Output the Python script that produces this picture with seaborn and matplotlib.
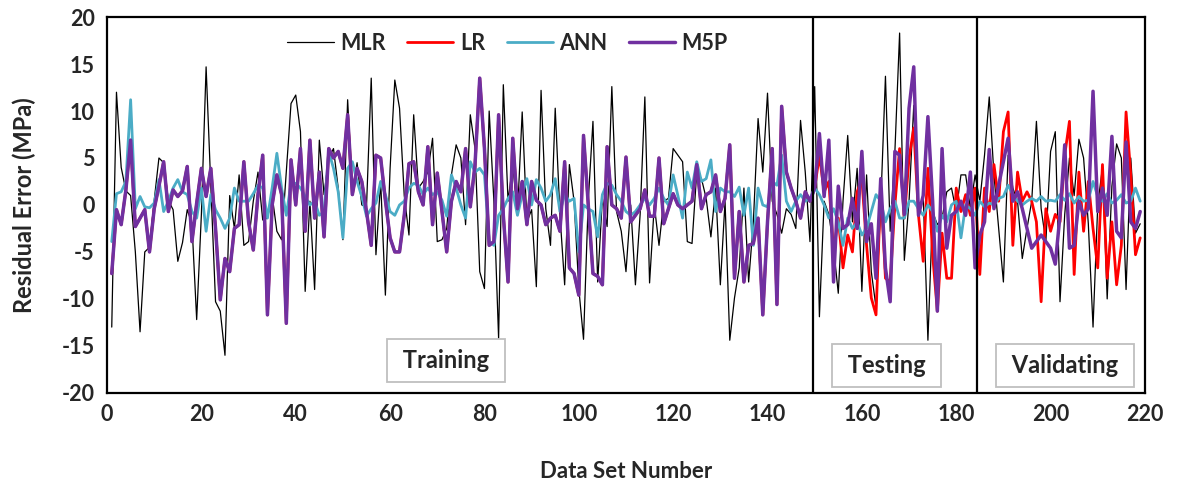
import numpy as np
import pandas as pd
import matplotlib
matplotlib.use("Agg")
import matplotlib.pyplot as plt
import seaborn as sns

# ---------------- data ----------------
mlr = [
    -13, 12, 4, 1.5, 1, -5, -13.5, -5, -4.5, 0.5,
    5, 4.5, 0.5, -0.5, -6, -4, -0.5, -2, -12.2, -1,
    14.7, 2, -10.3, -11.3, -16, 1, -2.5, 3.2, -4.3, -3.9,
    0.4, 3.5, -1.6, -1.4, 1, -2.8, -3.7, 3.5, 10.8, 11.7,
    7.8, -9.2, 0.4, -9, 6.9, 1.1, 5, 6, 1.8, -3.7,
    11.2, 1.4, 4.5, 0, -0.2, 13.5, -5.3, 2.5, -9.6, 3.9,
    13.3, 10.3, 1, -3.2, 9.6, 1.8, 2.5, 3.5, 7.1, -3.9,
    -3.7, -2.5, 3.2, 6.4, 5, -2.1, 9.6, 6, -7.1, -8.9,
    10, 0.4, -14.2, 12.8, 0.4, 4.3, -1, 9.9, -1.8, -0.5,
    -8.7, 12.2, -0.4, -4.3, 10.3, -1, -8.5, 4.3, 0.4, -8.9,
    -14.3, 0.4, 8.9, -8.2, 0.7, -2.3, 12.6, -0.7, -2.8, -7.1,
    0, -8.5, -1, 11.5, -8.3, 0, -4.3, 0.4, 0.7, 6,
    5.3, 4.6, -3.9, -4.1, 3.5, 2.8, 0.7, -3.4, 1.8, -8.5,
    0.4, -14.4, -9.9, -6.7, 1.8, -8.2, -1.8, 9.2, 3.5, 11.9,
    0.4, -1, -3, -0.4, -1, -2.5, 9, 3.5, -3.9, 12.6,
    -11.9, 0.4, -1, -4.5, -9.4, 0.4, 7.4, -1.8, 3.9, -9.2,
    3.2, -7.1, -10.9, 0, 13.7, -2.8, 5.7, 18.3, -5.9, 0.4,
    10.6, -1, 1.1, -14.4, -0.7, -2.1, -1.4, 1.4, 1.8, -0.7,
    3.2, 3.2, -0.4, 3.2, 0.4, 5.3, 11.5, 3.2, -2.5, -8.2,
    5.3, 1.8, 0.4, -5.7, -2.5, 0.4, 8.9, -0.4, -3.9, 5.7,
    7.8, -10.3, -1, 5, 1, 7, 5, -2, -13, 0,
    4, -10, 2, 6.5, 5, -9, 5, -3, -2,
]

lr = [
    -7.3, -0.5, -2.1, 1.6, 6.9, -2.3, -1.4, -0.5, -5, -0.4,
    2, 4.6, -0.7, 1.6, 0.9, 1.5, 4.1, -3.9, 0.2, 3.9,
    0.9, 3.9, -2.5, -10.1, -5.7, -7.1, -2.5, -2.1, 4.6, -1.8,
    -4.8, 1.1, 5.3, -11.7, 0, 3.2, 1.1, -12.6, 4.8, 0,
    6, -2.8, 6.9, -1.4, 3.5, -3.4, 6, 5, 5.7, 3.9,
    9.6, 1.1, 3.9, 2.5, -0.7, -4.3, 5.3, 5, 0.5, -3.5,
    -5, -5, -1.1, 4.4, 4.6, 1.4, 0, 6.2, -2.1, 3.4,
    -0.7, -5, 0.4, 2.5, 1.4, 6, -0.2, 4.3, 13.5, 6,
    -4.3, -3.9, 9.6, -1.1, -8.2, 7.1, -0.4, 2.5, -2.1, 2.5,
    0.5, 0, -2.1, -1.4, -1.1, -2.8, 4.6, -6.7, -7.3, -9.6,
    7.4, 0, -7.3, -7.6, -8.5, 6.2, 0, -0.4, -1.4, 5.1,
    -1.8, -1.1, -0.4, 1.6, -1.2, -1.2, 5, -2, -0.4, 1.2,
    0, -0.4, 0, 0.4, 4.3, -0.4, 1.1, 1.4, 3.2, -0.7,
    0.7, 6.4, -7.8, -0.7, -8.2, -4.3, -4.1, -1.4, -11.7, -1.8,
    6, -10.6, 10.5, 3.5, 1.8, 0.4, -1.4, 1.4, 0.4, 1.8,
    5.3, 1.4, 2.5, -5, -1.4, -6.7, -3.2, -5, 1.4, 2.8,
    -4.3, -9.9, -11.7, 1.8, -7.8, -8.2, 0, 6, -1.4, 5,
    8.2, -1.1, -6, 3.9, -5.3, -11.3, -3, -7.8, -7.8, 1.8,
    -0.7, 1.1, -1.1, 1.8, -7.4, 1.8, -0.7, 4.3, 0.4, 7.8,
    9.9, -4.3, 3.5, 0.4, 1.4, 0.4, -1.8, -10.3, -0.4, -2.8,
    -1, -1.8, 5.3, 8.9, -7.4, 3.5, -2.8, 2.5, -2.5, -6.7,
    4.3, -7.8, -1.8, -8.5, -4.3, 9.9, 3.2, -5.3, -3.5,
]

ann = [
    -3.9, 1.2, 1.4, 2.5, 11.2, -0.4, 0.9, -0.2, -0.3, 0.2,
    2.7, -0.7, 0.4, 1.8, 2.7, 1.4, 1.1, -0.7, -1.4, 1.8,
    -2.8, 1.1, -0.5, -1.4, -2.5, -1.4, 1.8, 0.4, 0.4, 0.4,
    1.2, 2.1, 1.8, -1.4, 1.8, 5.5, 1.8, -1.1, 2.3, 2.3,
    1.8, 0.9, 0, 0.4, -1.1, -0.7, 5.7, 3.9, 1.4, -3.5,
    3.9, 4.6, 2.5, 0.9, -1.2, -0.4, 0.2, 2.5, 1.1, -0.7,
    -1.1, 0, 0.4, 1.8, 2.3, 2.1, 1.1, 1.8, 1.1, 1.4,
    0.5, -1.2, 3.2, 1.8, 0, -1.4, 4.6, 3.5, 3.9, 3.2,
    -3.9, -4.3, -1.1, -0.4, 0.7, 1.4, -1.1, 1.1, 2.8, 0,
    2.7, 1.8, 0.4, 1.1, 2.8, -0.7, 1.1, 0.4, 0.7, -5,
    0, -0.4, -0.7, -3.4, 1.1, 2.3, 2.1, 1.1, 0.4, -0.7,
    -1.1, -0.7, 0, 0.7, 0, 0.7, 1.8, 0.7, 0, 3.2,
    1, -1.4, 3.5, 1.8, 4.6, 2.5, 2.8, 4.8, -0.7, 1.8,
    1.4, 1.4, 0.9, 1.9, -1.1, 1.8, -4.3, 1.8, 0, -0.2,
    2.5, 2.1, 5.3, 0.4, -0.7, 0.4, 1.1, 0.4, 0.7, 1.8,
    1.1, 0, -1.4, -0.4, -1.8, -4.3, -1.4, -2.5, -1.8, -3.2,
    -2.5, -0.7, 1.1, 0.4, -1.8, -0.4, 0.4, -1.4, -1.4, 0.4,
    0.4, -0.4, -1.1, 0, -0.7, -2.8, -1.1, -1.8, 0, 0.4,
    -3.5, 0, -0.4, -1.1, 0.4, -0.2, 0.2, 0, 0.7, 0.9,
    2.1, 1.1, 0.4, 0, 0.4, 0.7, 0.4, 0.9, 0.4, 0.5,
    0.4, 1.1, 0.5, 1.2, 0.2, 0.9, 0.4, 0.5, 2.5, 0.9,
    0.4, 1.2, 0.2, 0.5, 1.1, 0.2, 0.4, 1.8, 0.4,
]

m5p = [
    -7.3, -0.5, -2.1, 1.6, 6.9, -2.3, -1.4, -0.5, -5, -0.4,
    2, 4.6, -0.7, 1.6, 0.9, 1.5, 4.1, -3.9, 0.2, 3.9,
    0.9, 3.9, -2.5, -10.1, -5.7, -7.1, -2.5, -2.1, 4.6, -1.8,
    -4.8, 1.1, 5.3, -11.7, 0, 3.2, 1.1, -12.6, 4.8, 0,
    6, -2.8, 6.9, -1.4, 3.5, -3.4, 6, 5, 5.7, 3.9,
    9.6, 1.1, 3.9, 2.5, -0.7, -4.3, 5.3, 5, 0.5, -3.5,
    -5, -5, -1.1, 4.4, 4.6, 1.4, 0, 6.2, -2.1, 3.4,
    -0.7, -5, 0.4, 2.5, 1.4, 6, -0.2, 4.3, 13.5, 6,
    -4.3, -3.9, 9.6, -1.1, -8.2, 7.1, -0.4, 2.5, -2.1, 2.5,
    0.5, 0, -2.1, -1.4, -1.1, -2.8, 4.6, -6.7, -7.3, -9.6,
    7.4, 0, -7.3, -7.6, -8.5, 6.2, 0, -0.4, -1.4, 5.1,
    -1.8, -1.1, -0.4, 1.6, -1.2, -1.2, 5, -2, -0.4, 1.2,
    0, -0.4, 0, 0.4, 4.3, -0.4, 1.1, 1.4, 3.2, -0.7,
    0.7, 6.4, -7.8, -0.7, -8.2, -4.3, -4.1, -1.4, -11.7, -1.8,
    6, -10.6, 10.5, 3.5, 1.8, 0.4, -1.4, 1.4, 0.4, 1.8,
    7.6, 0.9, 6.9, -8.2, 2, -2.5, -2.1, 0.7, -2.5, 5.7,
    -3.9, -2, -7.8, 2.8, -6.7, -10.3, 5.7, 5.3, -1, 10.3,
    14.7, -1.1, 1, 9.4, 0.4, -11.3, 6, -4.6, -1.1, -0.7,
    0.4, -1.1, 3.5, -6.7, -3.2, -1.8, 5.9, -0.4, 2.1, 4.6,
    7.1, 0.4, 1.4, -0.4, -2.5, -4.6, -3.9, -3.2, -3.9, -4.6,
    -6.3, -1.1, 6.4, -4.6, -4.3, 0.4, -1.1, -0.4, 12.1, -0.7,
    1.8, -1.1, 7.3, -2.8, -3.5, 6.7, -1.8, -2.5, -0.7,
]

series_names = ["MLR", "LR", "ANN", "M5P"]
series_colors = ["#000000", "#ff0000", "#4bacc6", "#7030a0"]
series_widths = [0.9, 2.0, 2.0, 2.5]
x_ticks = list(range(0, 221, 20))
y_ticks = list(range(-20, 21, 5))
stage_names = ["Training", "Testing", "Validating"]
stage_bounds = [149.6, 184.3]

n = len(mlr)
data_set = np.arange(1, n + 1)
df = pd.DataFrame({
    "Data Set Number": np.tile(data_set, 4),
    "Residual Error (MPa)": mlr + lr + ann + m5p,
    "Model": np.repeat(series_names, n),
})

# ---------------- plotting ----------------
sns.set_style("white")
plt.rcParams["font.family"] = ["Lato", "DejaVu Sans"]
plt.rcParams["axes.unicode_minus"] = False

fig = plt.figure(figsize=(11.84, 4.88), dpi=100)
ax = fig.add_axes([0.0904, 0.195, 0.8766, 0.770])

for name, col, lw in zip(series_names, series_colors, series_widths):
    sub = df[df["Model"] == name]
    sns.lineplot(data=sub, x="Data Set Number", y="Residual Error (MPa)",
                 color=col, linewidth=lw, ax=ax, label=name)

for b in stage_bounds:
    ax.axvline(b, color="black", linewidth=1.6, zorder=5)

ax.set_xlim(0, 220)
ax.set_ylim(-20, 20)
ax.set_xticks(x_ticks)
ax.set_yticks(y_ticks)
ax.tick_params(axis="both", labelsize=15.5, length=0)
ax.tick_params(axis="x", pad=8)
ax.tick_params(axis="y", pad=9)
for lab in ax.get_xticklabels() + ax.get_yticklabels():
    lab.set_fontweight("bold")

ax.set_xlabel("Data Set Number", fontsize=16, fontweight="bold", labelpad=26)
ax.set_ylabel("Residual Error (MPa)", fontsize=17, fontweight="bold", labelpad=18)

for sp in ax.spines.values():
    sp.set_color("black")
    sp.set_linewidth(1.6)

leg = ax.legend(loc="upper center", bbox_to_anchor=(0.386, 1.01), ncol=4,
                frameon=False, fontsize=15.5, handlelength=2.15,
                columnspacing=1.0, handletextpad=0.3)
for t in leg.get_texts():
    t.set_fontweight("bold")

box = dict(boxstyle="square,pad=0.42", facecolor="white", edgecolor="#bfbfbf", linewidth=1.3)
stage_pos = [(71.8, -16.6), (165.3, -17.1), (203.0, -17.1)]
for name, (sx, sy) in zip(stage_names, stage_pos):
    ax.text(sx, sy, " " + name + " ", ha="center", va="center", fontsize=17,
            fontweight="bold", bbox=box, zorder=6)

fig.savefig("out.png", dpi=100)
